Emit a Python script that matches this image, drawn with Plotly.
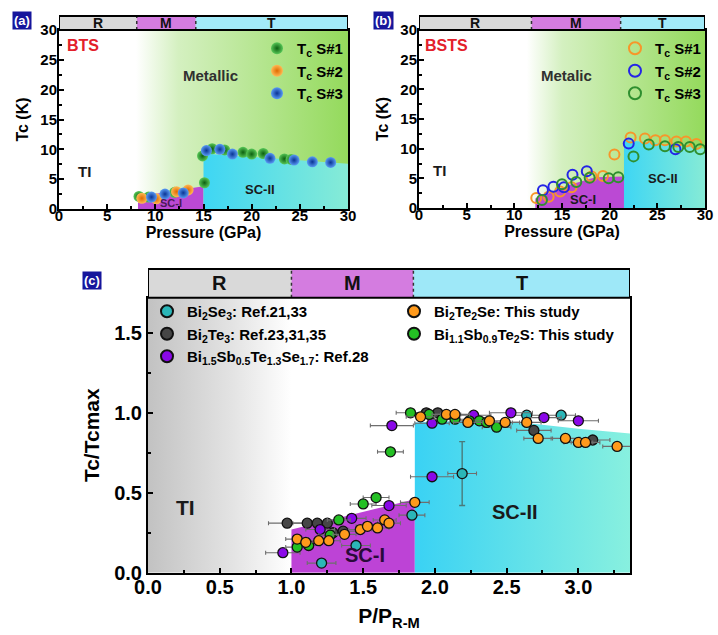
import plotly.graph_objects as go

W, H = 718, 635
FONT = "Liberation Sans, Arial, sans-serif"

# ---------------- Panel (a): BTS ----------------
a_s1_p = [8.3, 9.3, 12.0, 14.9, 15.1, 15.9, 17.2, 19.1, 20.0, 21.2, 23.4, 24.1]
a_s1_tc = [2.1, 2.0, 2.8, 8.9, 4.4, 10.1, 9.9, 9.5, 9.2, 9.3, 8.4, 8.3]
a_s2_p = [8.6, 10.1, 12.2, 13.4]
a_s2_tc = [1.8, 1.7, 2.9, 3.2]
a_s3_p = [9.6, 11.0, 12.9, 15.3, 16.7, 18.0, 21.9, 24.4, 26.3, 28.2]
a_s3_tc = [2.0, 2.5, 2.7, 9.8, 10.0, 9.2, 8.5, 8.2, 7.9, 7.8]
a_phase_edges = [0, 8.07, 14.2, 30]
a_phase_names = ["R", "M", "T"]
a_metal_p = [8.0, 30.0]
a_sc1_p = [8.2, 15.0]
a_sc1_top = [2.1, 3.8]
a_sc2_p = [15.0, 30.0]
a_sc2_top = [9.3, 7.6]

# ---------------- Panel (b): BSTS ----------------
b_s1_p = [12.3, 13.6, 14.8, 16.0, 18.1, 19.3, 20.5, 22.2, 23.7, 24.8, 25.8, 27.0, 28.0, 29.1]
b_s1_tc = [1.7, 1.9, 2.8, 3.5, 5.3, 5.4, 9.0, 11.9, 11.7, 11.4, 11.4, 11.2, 11.2, 10.8]
b_s2_p = [13.0, 14.1, 15.2, 16.1, 17.6, 22.0, 26.9]
b_s2_tc = [3.0, 3.6, 3.5, 5.6, 6.2, 10.85, 9.9]
b_s3_p = [12.9, 15.0, 16.5, 17.9, 19.9, 20.9, 22.5, 24.1, 25.8, 27.2, 28.4, 29.5]
b_s3_tc = [1.35, 4.0, 4.4, 5.1, 5.0, 5.2, 8.7, 10.7, 10.4, 10.3, 10.3, 9.9]
b_phase_edges = [0, 11.8, 21.15, 30]
b_phase_names = ["R", "M", "T"]
b_metal_p = [11.3, 30.0]
b_sc1_p = [12.2, 16.0, 18.5, 21.5]
b_sc1_top = [1.6, 4.0, 5.2, 5.3]
b_sc2_p = [21.5, 30.0]
b_sc2_top = [11.5, 10.0]

# ---------------- Panel (c): normalized ----------------
c_bi2se3_p = [1.21, 1.45, 1.84, 2.19, 2.64, 2.88]
c_bi2se3_t = [0.06, 0.17, 0.36, 0.62, 0.985, 0.985]
c_bi2se3_xerr = [0.1, 0.1, 0.09, 0.1, 0.1, 0.1]
c_bi2se3_yerr = [0, 0, 0, 0.2, 0, 0]

c_bi2te3_p = [0.97, 1.11, 1.18, 1.25, 1.29, 1.36, 1.94, 2.02, 2.69, 3.10]
c_bi2te3_t = [0.31, 0.31, 0.31, 0.31, 0.25, 0.26, 1.0, 1.0, 0.89, 0.83]
c_bi2te3_xerr = [0.13, 0.1, 0.1, 0.1, 0.1, 0.1, 0.1, 0.1, 0.12, 0.12]

c_bsts_p = [0.94, 1.20, 1.42, 1.68, 1.70, 1.98, 1.98, 2.27, 2.53, 2.76, 3.00]
c_bsts_t = [0.125, 0.27, 0.34, 0.42, 0.92, 0.60, 0.935, 0.985, 1.0, 0.97, 0.95]
c_bsts_xerr = [0.12, 0.1, 0.1, 0.12, 0.15, 0.15, 0.12, 0.12, 0.15, 0.12, 0.14]

c_bist_p = [1.04, 1.12, 1.27, 1.33, 1.50, 1.59, 1.69, 1.83, 1.96, 2.05, 2.14, 2.24, 2.31, 2.36, 2.43]
c_bist_t = [0.16, 0.17, 0.235, 0.33, 0.43, 0.47, 0.756, 1.0, 0.99, 0.96, 0.96, 0.95, 0.95, 0.94, 0.91]
c_bist_xerr = [0.08, 0.08, 0.08, 0.08, 0.09, 0.09, 0.09, 0.1, 0.1, 0.1, 0.1, 0.1, 0.1, 0.1, 0.1]

c_bts_p = [1.04, 1.10, 1.19, 1.26, 1.37, 1.48, 1.53, 1.60, 1.65, 1.68, 1.86, 1.90, 2.08, 2.14,
           2.23, 2.38, 2.49, 2.64, 2.72, 2.91, 3.00, 3.05, 3.27]
c_bts_t = [0.21, 0.19, 0.20, 0.20, 0.24, 0.27, 0.29, 0.28, 0.33, 0.31, 0.44, 0.975, 0.99, 0.99,
           0.94, 0.95, 0.94, 0.94, 0.84, 0.84, 0.815, 0.815, 0.79]
c_bts_xerr = [0.08] * 10 + [0.1] * 13

c_phase_edges = [0, 1.0, 1.85, 3.36]
c_phase_names = ["R", "M", "T"]
c_ti_p = [0.0, 1.0]
c_sc1_p = [1.0, 1.86]
c_sc1_top = [0.27, 0.46]
c_sc2_p = [1.86, 2.3, 2.7, 3.0, 3.36]
c_sc2_top = [0.94, 0.95, 0.93, 0.90, 0.87]

# ---------------- layout geometry (pixels) ----------------
def PX(px):
    return px / W

def PY(py):
    return 1 - py / H

A_X = [PX(59), PX(348)]
A_Y = [PY(209), PY(30)]
B_X = [PX(419), PX(705)]
B_Y = [PY(208), PY(30)]
C_X = [PX(148), PX(630)]
C_Y = [PY(572.7), PY(297.7)]
AB_BAND_TOP = PY(16)
C_BAND_TOP = PY(269)

fig = go.Figure()


def region(xs, tops, xa, ya, colors=None, solid=None, bottom=0):
    x = list(xs) + list(xs)[::-1]
    y = [bottom] * len(xs) + list(tops)[::-1]
    kw = dict(x=x + [x[0]], y=y + [y[0]], mode="lines", line=dict(width=0),
              fill="toself", hoverinfo="skip", showlegend=False, xaxis=xa, yaxis=ya)
    if colors is not None:
        kw["fillgradient"] = dict(type="horizontal", colorscale=colors)
    else:
        kw["fillcolor"] = solid
    fig.add_trace(go.Scatter(**kw))


GREEN_SCALE = [[0, "#ffffff"], [0.2, "#d4f0c0"], [1, "#94da5c"]]
CYAN_SCALE = [[0, "#3ed6f4"], [1, "#86ebd6"]]

# panel (a) regions
region(a_metal_p, [30, 30], "x", "y", colors=GREEN_SCALE)
region(a_sc1_p, a_sc1_top, "x", "y", solid="#bb49d4")
region(a_sc2_p, a_sc2_top, "x", "y", colors=CYAN_SCALE)
# panel (b) regions
region(b_metal_p, [30, 30], "x2", "y2", colors=GREEN_SCALE)
region(b_sc1_p, b_sc1_top, "x2", "y2", solid="#bb49d4")
region(b_sc2_p, b_sc2_top, "x2", "y2", colors=CYAN_SCALE)
# panel (c) regions
region(c_ti_p, [1.72, 1.72], "x3", "y3", colors=[[0, "#c2c2c2"], [0.6, "#e4e4e4"], [1, "#ffffff"]])
region(c_sc1_p, c_sc1_top, "x3", "y3", solid="#bd43d6")
region(c_sc2_p, c_sc2_top, "x3", "y3", colors=[[0, "#3ad2f4"], [1, "#88f0df"]])


def sphere(xs, ys, name, c_in, c_out, leg):
    fig.add_trace(go.Scatter(
        x=xs, y=ys, mode="markers", name=name, legend=leg, xaxis="x", yaxis="y",
        marker=dict(size=11, color=c_in, line=dict(width=0),
                    gradient=dict(type="radial", color=c_out))))


sphere(a_s1_p, a_s1_tc, "T<sub>c</sub> S#1", "#58c858", "#0c6010", "legend")
sphere(a_s2_p, a_s2_tc, "T<sub>c</sub> S#2", "#ffbb55", "#e06a00", "legend")
sphere(a_s3_p, a_s3_tc, "T<sub>c</sub> S#3", "#5a9cf5", "#0a3494", "legend")


def ring(xs, ys, name, color):
    fig.add_trace(go.Scatter(
        x=xs, y=ys, mode="markers", name=name, legend="legend2", xaxis="x2", yaxis="y2",
        marker=dict(size=10, symbol="circle-open", color=color, line=dict(width=2, color=color))))


ring(b_s1_p, b_s1_tc, "T<sub>c</sub> S#1", "#f7962a")
ring(b_s2_p, b_s2_tc, "T<sub>c</sub> S#2", "#2424e6")
ring(b_s3_p, b_s3_tc, "T<sub>c</sub> S#3", "#2f8f2f")


def pts(xs, ys, xerr, name, color, leg, rank, yerr=None):
    kw = dict(x=xs, y=ys, mode="markers", name=name, legend=leg, legendrank=rank,
              xaxis="x3", yaxis="y3",
              marker=dict(size=10, color=color, line=dict(width=1.3, color="#111111")),
              error_x=dict(type="data", array=xerr, color="#6e6e6e", thickness=1.1, width=2))
    if yerr is not None:
        kw["error_y"] = dict(type="data", array=yerr, color="#4a7a7a", thickness=1.4, width=3)
    fig.add_trace(go.Scatter(**kw))


pts(c_bi2se3_p, c_bi2se3_t, c_bi2se3_xerr, "Bi<sub>2</sub>Se<sub>3</sub>: Ref.21,33",
    "#2bb6b8", "legend3", 1, yerr=c_bi2se3_yerr)
pts(c_bi2te3_p, c_bi2te3_t, c_bi2te3_xerr, "Bi<sub>2</sub>Te<sub>3</sub>: Ref.23,31,35",
    "#464646", "legend3", 2)
pts(c_bsts_p, c_bsts_t, c_bsts_xerr,
    "Bi<sub>1.5</sub>Sb<sub>0.5</sub>Te<sub>1.3</sub>Se<sub>1.7</sub>: Ref.28",
    "#8a08e8", "legend3", 3)
pts(c_bist_p, c_bist_t, c_bist_xerr, "Bi<sub>1.1</sub>Sb<sub>0.9</sub>Te<sub>2</sub>S: This study",
    "#24c024", "legend4", 2)
pts(c_bts_p, c_bts_t, c_bts_xerr, "Bi<sub>2</sub>Te<sub>2</sub>Se: This study",
    "#ff9a1c", "legend4", 1)

# ---------------- axes ----------------
def axis_common(size, standoff):
    return dict(showline=True, linewidth=2, linecolor="black", mirror=True, ticks="inside",
                ticklen=5, tickwidth=1.5, tickcolor="black", showgrid=False, zeroline=False,
                automargin=False, ticklabelstandoff=standoff,
                tickfont=dict(family=FONT, size=size, color="black", weight="bold"))


TF_AB = dict(family=FONT, size=16, color="black", weight="bold")
TF_C = dict(family=FONT, size=21, color="black", weight="bold")
MIN_AB = dict(dtick=2.5, ticks="inside", ticklen=3, tickcolor="black")
MIN_C = dict(dtick=0.25, ticks="inside", ticklen=3, tickcolor="black")

fig.update_layout(
    xaxis=dict(domain=A_X, anchor="y", range=[0, 30], dtick=5, minor=MIN_AB,
               title=dict(text="Pressure (GPa)", font=TF_AB, standoff=0), **axis_common(15, -8)),
    yaxis=dict(domain=A_Y, anchor="x", range=[0, 30], dtick=5, minor=MIN_AB,
               title=dict(text="Tc (K)", font=TF_AB, standoff=8), **axis_common(15, -3)),
    xaxis2=dict(domain=B_X, anchor="y2", range=[0, 30], dtick=5, minor=MIN_AB,
                title=dict(text="Pressure (GPa)", font=TF_AB, standoff=0), **axis_common(15, -8)),
    yaxis2=dict(domain=B_Y, anchor="x2", range=[0, 30], dtick=5, minor=MIN_AB,
                title=dict(text="Tc (K)", font=TF_AB, standoff=8), **axis_common(15, -3)),
    xaxis3=dict(domain=C_X, anchor="y3", range=[0, 3.36], dtick=0.5, tickformat=".1f", minor=MIN_C,
                title=dict(text="P/P<sub>R-M</sub>", font=TF_C, standoff=12), **axis_common(20, -5)),
    yaxis3=dict(domain=C_Y, anchor="x3", range=[0, 1.72], dtick=0.5, tickformat=".1f", minor=MIN_C,
                title=dict(text="Tc/Tcmax", font=TF_C, standoff=9), **axis_common(20, 0)),
)

LEG_AB = dict(font=dict(family=FONT, size=15, color="black", weight="bold"),
              bgcolor="rgba(0,0,0,0)", borderwidth=0, tracegroupgap=0,
              itemsizing="constant", xanchor="left", yanchor="top", traceorder="normal")
LEG_C = dict(font=dict(family=FONT, size=15, color="black", weight="bold"),
             bgcolor="rgba(0,0,0,0)", borderwidth=0, tracegroupgap=0,
             itemsizing="constant", xanchor="left", yanchor="top", traceorder="normal")
fig.update_layout(
    legend=dict(x=PX(257), y=PY(32), **LEG_AB),
    legend2=dict(x=PX(615), y=PY(32), **LEG_AB),
    legend3=dict(x=PX(147), y=PY(295), **LEG_C),
    legend4=dict(x=PX(394), y=PY(295), **LEG_C),
)

# ---------------- phase bands and annotations ----------------
shapes = []
annotations = []


def bands(xref, edges, names, y0, y1, fsize, t_color):
    colors = ["#d9d9d9", "#d47ce0", t_color]
    for i, nm in enumerate(names):
        shapes.append(dict(type="rect", xref=xref, yref="paper", x0=edges[i], x1=edges[i + 1],
                           y0=y0, y1=y1, fillcolor=colors[i], line=dict(width=0), layer="above"))
        annotations.append(dict(xref=xref, yref="paper", x=(edges[i] + edges[i + 1]) / 2,
                                y=(y0 + y1) / 2, text=nm, showarrow=False,
                                xanchor="center", yanchor="middle",
                                font=dict(family=FONT, size=fsize, color="#111111", weight="bold")))
    for e in edges[1:-1]:
        shapes.append(dict(type="line", xref=xref, yref="paper", x0=e, x1=e, y0=y0, y1=y1,
                           line=dict(color="#333333", width=1.5, dash="dot"), layer="above"))
    shapes.append(dict(type="rect", xref=xref, yref="paper", x0=edges[0], x1=edges[-1],
                       y0=y0, y1=y1, line=dict(color="black", width=2), layer="above"))


bands("x", a_phase_edges, a_phase_names, A_Y[1], AB_BAND_TOP, 14, "#a2eaf8")
bands("x2", b_phase_edges, b_phase_names, B_Y[1], AB_BAND_TOP, 14, "#a2eaf8")
bands("x3", c_phase_edges, c_phase_names, C_Y[1], C_BAND_TOP, 20, "#9ee8f8")


def txt(xref, yref, x, y, s, size, color="#1a1a1a", xanchor="center"):
    annotations.append(dict(xref=xref, yref=yref, x=x, y=y, text=s, showarrow=False,
                            xanchor=xanchor, yanchor="middle",
                            font=dict(family=FONT, size=size, color=color, weight="bold")))


# panel tags
for tag, px, py in [("(a)", 22, 21), ("(b)", 383, 21), ("(c)", 92, 280)]:
    annotations.append(dict(xref="paper", yref="paper", x=PX(px), y=PY(py), text=tag,
                            showarrow=False, bgcolor="#16169c", borderpad=1,
                            xanchor="center", yanchor="middle",
                            font=dict(family=FONT, size=13, color="white", weight="bold")))

txt("x", "y", 0.6, 27.4, "BTS", 16, color="#e3202a", xanchor="left")
txt("x", "y", 15.7, 22.3, "Metallic", 15, color="#303030")
txt("x", "y", 2.6, 6.3, "TI", 15)
txt("x", "y", 11.6, 1.0, "SC-I", 11, color="#4a1a5a")
txt("x", "y", 20.9, 3.2, "SC-II", 13)

txt("x2", "y2", 0.4, 27.4, "BSTS", 16, color="#e3202a", xanchor="left")
txt("x2", "y2", 15.5, 22.3, "Metalic", 15, color="#303030")
txt("x2", "y2", 2.2, 6.3, "TI", 15)
txt("x2", "y2", 17.2, 1.5, "SC-I", 13)
txt("x2", "y2", 25.6, 4.9, "SC-II", 13)

txt("x3", "y3", 0.26, 0.41, "TI", 21)
txt("x3", "y3", 1.51, 0.11, "SC-I", 20, color="#2a0a3a")
txt("x3", "y3", 2.56, 0.38, "SC-II", 20)

fig.update_layout(
    width=W, height=H, margin=dict(l=0, r=0, t=0, b=0),
    paper_bgcolor="white", plot_bgcolor="white",
    shapes=shapes, annotations=annotations,
    font=dict(family=FONT),
)

fig.write_html("out.html", config={"displayModeBar": False},
               post_script="document.body.style.margin='0px';document.body.style.overflow='hidden';")
